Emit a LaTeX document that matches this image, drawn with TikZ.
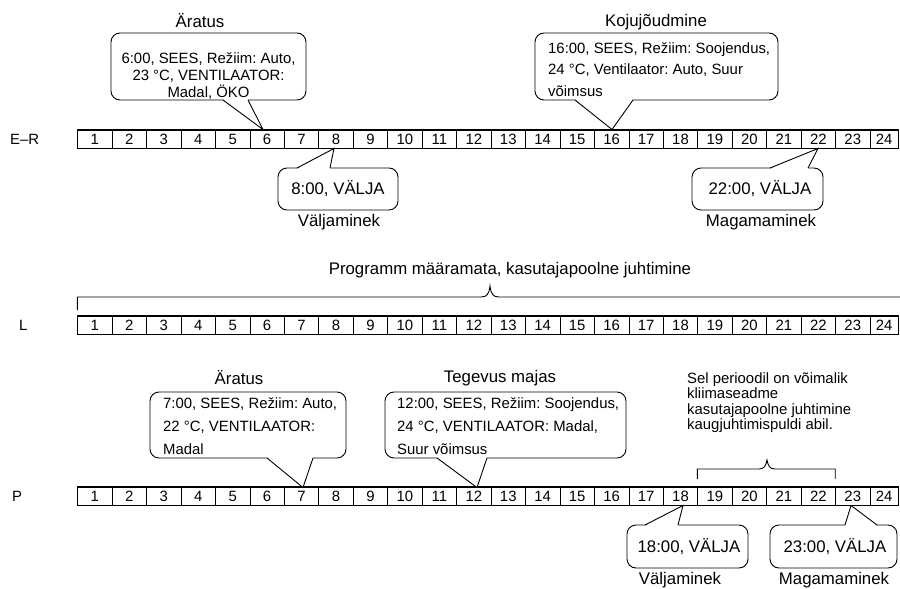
\documentclass[tikz,border=0pt]{standalone}
\usepackage{fontspec}
\setmainfont{Liberation Sans}
\frenchspacing
\begin{document}
\begin{tikzpicture}[x=1pt,y=-1pt,
  cell/.style={draw, line width=0.7pt, minimum width=34.45pt, minimum height=18pt, inner sep=0pt, anchor=west, font=\fontsize{14.9}{16}\selectfont},
  bubble/.style={draw, line width=0.9pt, rounded corners=9pt, fill=white, inner sep=0pt},
  btext/.style={font=\fontsize{14.9}{21.5}\selectfont, inner sep=0pt, align=left, anchor=north west},
  lab/.style={font=\fontsize{16.8}{18}\selectfont, inner sep=0pt},
  rowlab/.style={font=\fontsize{14.9}{16}\selectfont, anchor=west, inner sep=0pt},
  ptr/.style={line width=0.9pt, line join=miter},
  brace/.style={line width=0.9pt}
]
\useasboundingbox (0,0) rectangle (900,589);

% timeline rows
\foreach \r/\yy in {er/139, l/325, p/496} {
  \foreach \i in {1,...,23} \node[cell] (\r\i) at ({77.3+(\i-1)*34.45},\yy) {\i};
  \node[cell, minimum width=28.35pt] (\r24) at (869.65,\yy) {24};
  \draw[line width=1.4pt] (\r1.north west) -- (\r24.north east);
  \draw[line width=1.4pt] (\r1.south west) -- (\r24.south east);
}
\node[rowlab] (lab-er) at (10,139) {E–R};
\node[rowlab] (lab-l) at (19,325) {L};
\node[rowlab] (lab-p) at (12,496) {P};

% ---- E-R callouts
\coordinate (tip1) at (263,129.5);
\node[bubble, minimum width=195pt, minimum height=67pt] (c1) at (208.5,66.5) {};
\fill[white] (223,99) -- (tip1) -- (248,99) -- cycle;
\draw[ptr] (223,100) -- (tip1) -- (248,100);
\node[inner sep=0pt, align=center, font=\fontsize{14.9}{17.2}\selectfont] (t1) at (208.5,76) {6:00, SEES, Režiim: Auto,\\23 °C, VENTILAATOR:\\Madal, ÖKO};
\node[lab] (l1) at (200,21) {Äratus};

\coordinate (tip2) at (612,129.5);
\node[bubble, minimum width=243pt, minimum height=67pt] (c2) at (656.5,66.5) {};
\fill[white] (575,99) -- (tip2) -- (633,99) -- cycle;
\draw[ptr] (575,100) -- (tip2) -- (633,100);
\node[btext] (t2) at (548,42) {16:00, SEES, Režiim: Soojendus,\\24 °C, Ventilaator: Auto, Suur\\võimsus};
\node[lab] (l2) at (656,22) {Kojujõudmine};

\coordinate (tip3) at (334,148.5);
\node[bubble, minimum width=120pt, minimum height=42pt] (c3) at (338,189) {};
\fill[white] (297,169) -- (tip3) -- (330,169) -- cycle;
\draw[ptr] (297,168) -- (tip3) -- (330,168);
\node[lab] (t3) at (338,189) {8:00, VÄLJA};
\node[lab] (l3) at (339,222) {Väljaminek};

\coordinate (tip4) at (818,148.5);
\node[bubble, minimum width=131pt, minimum height=42pt] (c4) at (757.5,189) {};
\fill[white] (770,169) -- (tip4) -- (808,169) -- cycle;
\draw[ptr] (770,168) -- (tip4) -- (808,168);
\node[lab] (t4) at (760,189) {22:00, VÄLJA};
\node[lab] (l4) at (761,222) {Magamaminek};

% ---- L brace
\node[lab] (lL) at (510,270) {Programm määramata, kasutajapoolne juhtimine};
\draw[brace] (77.3,310) -- (77.3,297) -- (481,297) .. controls (487,297) and (489,294) .. (490,286)
  .. controls (491,294) and (493,297) .. (499,297) -- (905,297);

% ---- P callouts
\coordinate (tip5) at (303,487.5);
\node[bubble, minimum width=196pt, minimum height=66pt] (c5) at (248,425) {};
\fill[white] (267,457) -- (tip5) -- (313,457) -- cycle;
\draw[ptr] (267,458) -- (tip5) -- (313,458);
\node[btext, font=\fontsize{14.9}{23}\selectfont] (t5) at (163,397) {7:00, SEES, Režiim: Auto,\\22 °C, VENTILAATOR:\\Madal};
\node[lab] (l5) at (239,378) {Äratus};

\coordinate (tip6) at (477,487.5);
\node[bubble, minimum width=241pt, minimum height=66pt] (c6) at (505.5,425) {};
\fill[white] (437,457) -- (tip6) -- (487,457) -- cycle;
\draw[ptr] (437,458) -- (tip6) -- (487,458);
\node[btext, font=\fontsize{14.9}{23}\selectfont] (t6) at (397,397) {12:00, SEES, Režiim: Soojendus,\\24 °C, VENTILAATOR: Madal,\\Suur võimsus};
\node[lab] (l6) at (500,378) {Tegevus majas};

\node[btext, font=\fontsize{14.9}{15.5}\selectfont] (note) at (687,372) {Sel perioodil on võimalik\\kliimaseadme\\kasutajapoolne juhtimine\\kaugjuhtimispuldi abil.};
\draw[brace] (697.4,479) -- (697.4,469) -- (759,469) .. controls (764,469) and (766,466) .. (767,460)
  .. controls (768,466) and (770,469) .. (775,469) -- (835.2,469) -- (835.2,479);

\coordinate (tip7) at (683,505.5);
\node[bubble, minimum width=121pt, minimum height=43pt] (c7) at (687.5,546.5) {};
\fill[white] (645,526) -- (tip7) -- (678,526) -- cycle;
\draw[ptr] (645,525) -- (tip7) -- (678,525);
\node[lab] (t7) at (689,547) {18:00, VÄLJA};
\node[lab] (l7) at (680,580) {Väljaminek};

\coordinate (tip8) at (851,505.5);
\node[bubble, minimum width=127pt, minimum height=43pt] (c8) at (833.5,546.5) {};
\fill[white] (845,526) -- (tip8) -- (877,526) -- cycle;
\draw[ptr] (845,525) -- (tip8) -- (877,525);
\node[lab] (t8) at (835,547) {23:00, VÄLJA};
\node[lab] (l8) at (834,580) {Magamaminek};
\end{tikzpicture}
\end{document}
